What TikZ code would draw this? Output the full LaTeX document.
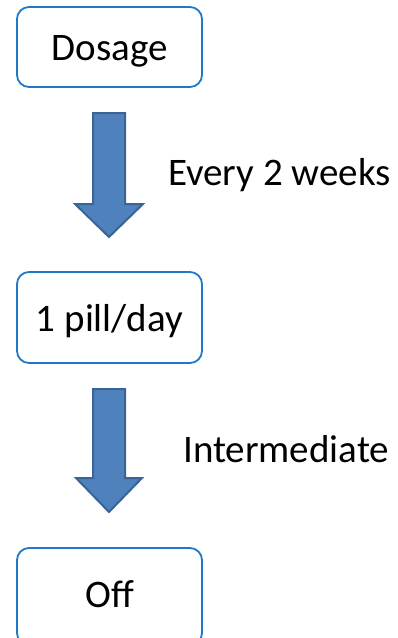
\documentclass[tikz,border=0pt]{standalone}
\usepackage{fontspec}
\setmainfont{Carlito}
\begin{document}
\begin{tikzpicture}[x=1pt,y=-1pt,
  stagebox/.style={draw=boxblue,line width=1.8pt,rounded corners=12pt,fill=white},
  stagetext/.style={anchor=base,inner sep=0pt,font=\fontsize{39}{46}\selectfont},
  blockarrow/.style={draw=arrowedge,fill=arrowfill,line width=2pt,line join=miter},
  label/.style={anchor=base west,inner sep=0pt,font=\fontsize{39}{46}\selectfont}]
\definecolor{boxblue}{HTML}{1F78C8}
\definecolor{arrowfill}{HTML}{4F81BD}
\definecolor{arrowedge}{HTML}{3A6396}
\useasboundingbox (0,0) rectangle (397,638);
\clip (0,0) rectangle (397,638);
% stage boxes
\draw[stagebox] (17,7) rectangle (202,87);
\node[stagetext] (dosage) at (109.5,60) {Dosage};
\draw[stagebox] (17,272) rectangle (202,363);
\node[stagetext] (pill) at (109.5,331) {1 pill/day};
\draw[stagebox] (17,548) rectangle (202,645);
\node[stagetext] (off) at (109.5,607) {Off};
% block arrows between stages
\draw[blockarrow] (93,113) -- (125,113) -- (125,204) -- (143,204) -- (109,237)
  -- (75,204) -- (93,204) -- cycle;
\draw[blockarrow] (93,389) -- (125,389) -- (125,478) -- (142,478) -- (109,512)
  -- (76,478) -- (93,478) -- cycle;
% transition labels
\node[label] (every) at (168,185) {Every 2 weeks};
\node[label] (inter) at (183,462) {Intermediate};
\end{tikzpicture}
\end{document}
